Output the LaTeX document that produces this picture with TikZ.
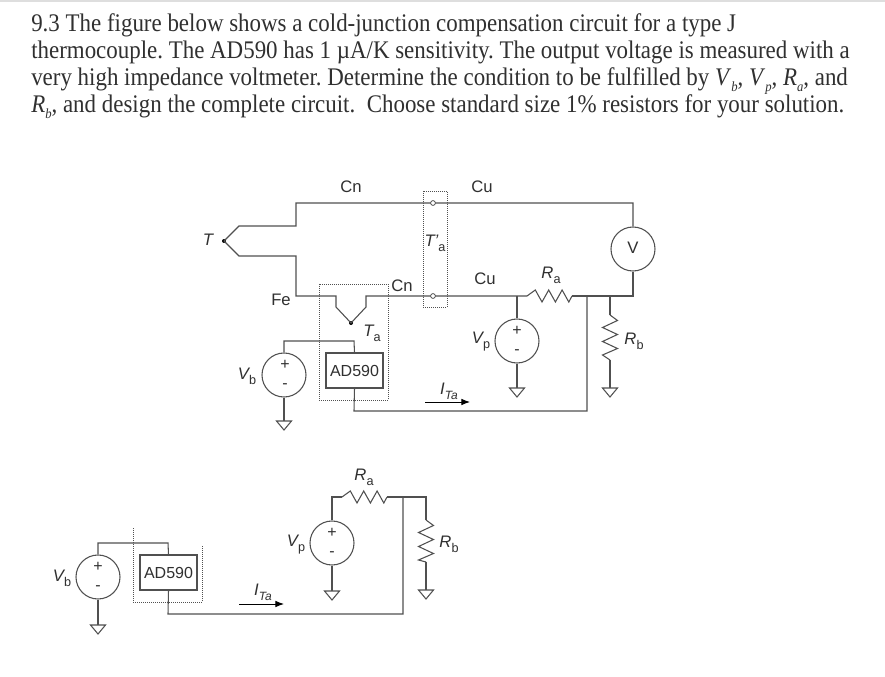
\documentclass[tikz,border=0pt]{standalone}
\usepackage{fontspec}
\setmainfont{Liberation Serif}
\setsansfont{Liberation Sans}
\newfontfamily\headfont[FakeStretch=0.905]{Liberation Serif}
\definecolor{ink}{HTML}{505050}
\definecolor{txt}{HTML}{303030}
\newcommand{\sv}[2]{{\sffamily\itshape #1\raisebox{-0.3em}{\upshape\fontsize{9.5}{11}\selectfont #2}}}
\newcommand{\si}[2]{\textit{#1}\raisebox{-0.2em}{\fontsize{10.5}{12}\selectfont\textit{#2}}}
\newcommand{\ita}{{\sffamily\itshape I\raisebox{-0.3em}{\fontsize{9}{11}\selectfont Ta}}}
\tikzset{
  wire/.style={draw=ink,line width=0.8pt,line join=miter},
  src/.style={circle,draw=ink,line width=0.8pt,minimum size=33pt,inner sep=0pt},
  part/.style={draw=ink,line width=0.8pt,minimum width=42.75pt,minimum height=26.25pt,inner sep=0pt,font=\sffamily\fontsize{12}{14}\selectfont,text=txt},
  lab/.style={font=\sffamily\fontsize{12.5}{14}\selectfont,text=txt,inner sep=0pt},
  sgn/.style={font=\sffamily\fontsize{12}{12}\selectfont,text=txt,inner sep=0pt},
  term/.style={circle,draw=ink,fill=white,line width=0.6pt,minimum size=3.6pt,inner sep=0pt},
  jn/.style={circle,fill=black,minimum size=3pt,inner sep=0pt},
  box/.style={draw=ink,densely dotted,line width=0.5pt},
  gnd/.style={draw=ink,line width=0.8pt,fill=white},
  head/.style={anchor=base west,inner sep=0pt,font=\headfont\fontsize{19}{21}\selectfont,text=txt},
  flow/.style={draw=black,line width=0.7pt,-{Latex[length=6.5pt,width=5pt]}}
}
\usetikzlibrary{arrows.meta}
\newcommand{\gndat}[1]{\draw[gnd] (#1) -- ++(-7.5,0) -- ++(7.5,9) -- ++(7.5,-9) -- cycle;}
\newcommand{\rh}[2]{\draw[wire] (#1) -- ++(8.3,-6) -- ++(6.7,12) -- ++(6.7,-12) -- ++(6.7,12) -- ++(6.7,-12) -- ++(6.7,12) -- (#2);}
\newcommand{\rv}[2]{\draw[wire] (#1) -- ++(7.5,5.5) -- ++(-15,7) -- ++(15,7) -- ++(-15,7) -- ++(15,7) -- ++(-15,6.5) -- (#2);}
\begin{document}
\begin{tikzpicture}[x=0.75pt,y=-0.75pt]
\useasboundingbox (0,0) rectangle (885,677);
\fill[white] (0,0) rectangle (885,677);
\fill[black!13] (0,0) rectangle (885,1.7);
% heading
\node[head] (h1) at (31,32) {9.3 The figure below shows a cold-junction compensation circuit for a type J};
\node[head] (h2) at (31,59) {\frenchspacing thermocouple. The AD590 has 1 µA/K sensitivity. The output voltage is measured with a};
\node[head] (h3) at (31,86) {\frenchspacing very high impedance voltmeter. Determine the condition to be fulfilled by \si{V}{b}, \si{V}{p}, \si{R}{a}, and};
\node[head] (h4) at (31,113) {\si{R}{b}, and design the complete circuit.\ \ Choose standard size 1\% resistors for your solution.};
% upper circuit: coordinates
\coordinate (ju) at (239,226); \coordinate (jl) at (239,256);
\coordinate (u1) at (296,226); \coordinate (u2) at (296,203);
\coordinate (u3) at (633,203);
\coordinate (l1) at (296,256); \coordinate (l2) at (296,296);
\coordinate (a1) at (336,296); \coordinate (a2) at (336,307);
\coordinate (b1) at (366,296); \coordinate (b2) at (366,307);
\coordinate (rs) at (527,296); \coordinate (re) at (572,296);
\coordinate (r3) at (633,296);
\coordinate (vtap) at (517,296); \coordinate (ctap) at (587,296);
\coordinate (rbt) at (610,296); \coordinate (rb1) at (610,315); \coordinate (rb2) at (610,360);
\coordinate (g1) at (517,388); \coordinate (g2) at (610,388); \coordinate (g3) at (284,421);
\coordinate (c1) at (587,411); \coordinate (c2) at (354,411);
\coordinate (t1) at (354,341); \coordinate (t2) at (284,341);
\node[jn] (T) at (224,241) {};
\node[jn] (Ta) at (351,323) {};
\node[src] (V) at (633,249) {};
\node[src] (Vp) at (517,341) {};
\node[src] (Vb) at (284,375) {};
\node[part] (ad) at (354.5,370.5) {AD590};
\draw[box] (423,191) rectangle (447,307);
\draw[box] (319,284) rectangle (388,400);
\draw[wire] (T.center) -- (ju) -- (u1) -- (u2) -- (u3) -- (V.north);
\draw[wire] (T.center) -- (jl) -- (l1) -- (l2) -- (a1) -- (a2) -- (Ta.center) -- (b2) -- (b1) -- (rs);
\rh{rs}{re}
\draw[wire] (re) -- (r3) -- (V.south);
\draw[wire] (vtap) -- (Vp.north);
\draw[wire] (Vp.south) -- (g1);
\draw[wire] (rbt) -- (rb1);
\rv{rb1}{rb2}
\draw[wire] (rb2) -- (g2);
\draw[wire] (ctap) -- (c1) -- (c2) -- (ad.south);
\draw[wire] (ad.north) -- (t1) -- (t2) -- (Vb.north);
\draw[wire] (Vb.south) -- (g3);
\gndat{g1}\gndat{g2}\gndat{g3}
\node[term] (tu) at (433,203) {};
\node[term] (tl) at (433,296) {};
\node[lab] (lcn1) at (351,187) {Cn};
\node[lab] (lcu1) at (482,187) {Cu};
\node[lab] (lT) at (208,240) {\sffamily\itshape T};
\node[lab] (lTp) at (435,243) {\sv{T'}{a}};
\node[lab] (lcn2) at (402,286) {Cn};
\node[lab] (lcu2) at (485,279) {Cu};
\node[lab] (lfe) at (281,300) {Fe};
\node[lab] (lTa) at (372,333) {\sv{T}{a}};
\node[lab] (lRa) at (551,275) {\sv{R}{a}};
\node[lab] (lRb) at (634,341) {\sv{R}{b}};
\node[lab] (lVp) at (481,342) {\sv{V}{p}};
\node[lab] (lVb) at (247,376) {\sv{V}{b}};
\node[lab] (lV) at (633,248) {V};
\node[sgn] (pVp) at (517,331) {+}; \node[sgn] (mVp) at (517,352) {-};
\node[sgn] (pVb) at (285,365) {+}; \node[sgn] (mVb) at (285,386) {-};
\coordinate (f1) at (425,402); \coordinate (f2) at (470,402);
\draw[flow] (f1) -- (f2);
\node[lab] (lI) at (449,391) {\ita};
% lower circuit
\node[src] (Vb2) at (98,577) {};
\node[src] (Vp2) at (332,543) {};
\node[part] (ad2) at (168.5,572.5) {AD590};
\draw[box] (133,528) -- (133,602) -- (202,602) -- (202,545);
\coordinate (p1) at (98,543); \coordinate (p2) at (168,543);
\coordinate (p3) at (168,614); \coordinate (p4) at (403,614); \coordinate (p5) at (403,497);
\coordinate (q1) at (332,497); \coordinate (q2) at (342,497); \coordinate (q3) at (387,497);
\coordinate (q4) at (426,497); \coordinate (q5) at (426,520); \coordinate (q6) at (426,562);
\coordinate (g4) at (98,625); \coordinate (g5) at (332,591); \coordinate (g6) at (426,590);
\draw[wire] (Vb2.north) -- (p1) -- (p2) -- (ad2.north);
\draw[wire] (ad2.south) -- (p3) -- (p4) -- (p5);
\draw[wire] (Vp2.north) -- (q1) -- (q2);
\rh{q2}{q3}
\draw[wire] (q3) -- (q4) -- (q5);
\rv{q5}{q6}
\draw[wire] (q6) -- (g6);
\draw[wire] (Vb2.south) -- (g4);
\draw[wire] (Vp2.south) -- (g5);
\gndat{g4}\gndat{g5}\gndat{g6}
\node[lab] (lVb2) at (62,578) {\sv{V}{b}};
\node[lab] (lVp2) at (296,545) {\sv{V}{p}};
\node[lab] (lRa2) at (364,477) {\sv{R}{a}};
\node[lab] (lRb2) at (449,544) {\sv{R}{b}};
\node[sgn] (pVb2) at (98,567) {+}; \node[sgn] (mVb2) at (98,588) {-};
\node[sgn] (pVp2) at (332,533) {+}; \node[sgn] (mVp2) at (332,554) {-};
\coordinate (f3) at (239,604); \coordinate (f4) at (284,604);
\draw[flow] (f3) -- (f4);
\node[lab] (lI2) at (263,592) {\ita};
\end{tikzpicture}
\end{document}
